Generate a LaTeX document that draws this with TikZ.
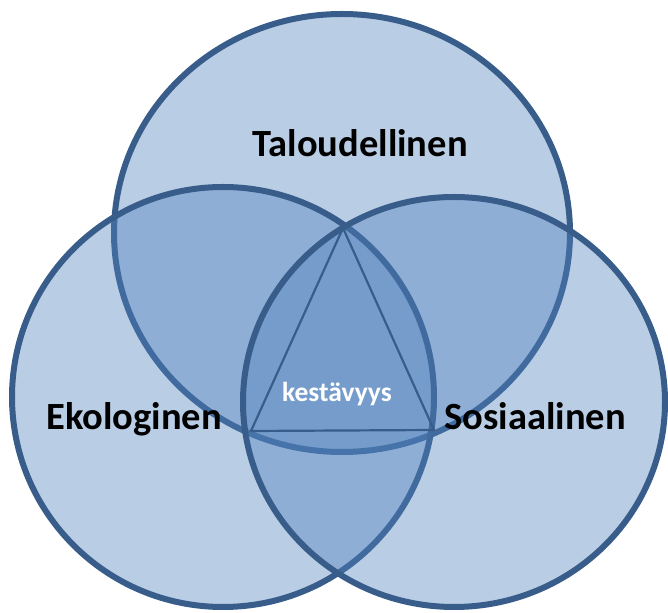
\documentclass[tikz,border=0pt]{standalone}
\usepackage{fontspec}
\setmainfont{Carlito}
\usetikzlibrary{positioning}
\definecolor{ringC}  {HTML}{385D8A}
\definecolor{ringFill}{HTML}{4F81BD}
\definecolor{labelInk}{HTML}{000000}
\tikzset{
  every node/.append style={line join=round},
  ring/.style={draw=ringC,line width=6pt,fill=ringFill,fill opacity=0.4},
  triLine/.style={draw=ringC,line width=2.2pt,line join=miter},
  dimLabel/.style={font=\fontsize{38.5}{42}\selectfont\bfseries,text=labelInk,
                   anchor=base,inner sep=0pt},
  coreLabel/.style={font=\fontsize{27.5}{30}\selectfont\bfseries,text=white,
                    anchor=base,inner sep=0pt},
}
\begin{document}
\begin{tikzpicture}[x=1pt,y=1pt]
\useasboundingbox (0,0) rectangle (668,612);

% The three dimensions, drawn top, left, right so later fills tint earlier rings.
\coordinate (talC) at (342,379);
\coordinate (ekoC) at (223,215);
\coordinate (sosC) at (454,210);
\path[ring] (talC) ellipse [x radius=228,y radius=219];
\path[ring] (ekoC) ellipse [x radius=211,y radius=210];
\path[ring] (sosC) ellipse [x radius=211,y radius=205];

% Triangle in the common lens.
\coordinate (triTop)   at (343,384);
\coordinate (triLeft)  at (251,181);
\coordinate (triRight) at (434,182);
\draw[triLine] (triTop) -- (triLeft) -- (triRight) -- cycle;

\node[dimLabel]  (tal)  at (360,455) {Taloudellinen};
\node[dimLabel]  (eko)  at (134,182) {Ekologinen};
\node[dimLabel]  (sos)  at (535,182) {Sosiaalinen};
\node[coreLabel] (kest) at (337,210) {kestävyys};

\end{tikzpicture}
\end{document}
